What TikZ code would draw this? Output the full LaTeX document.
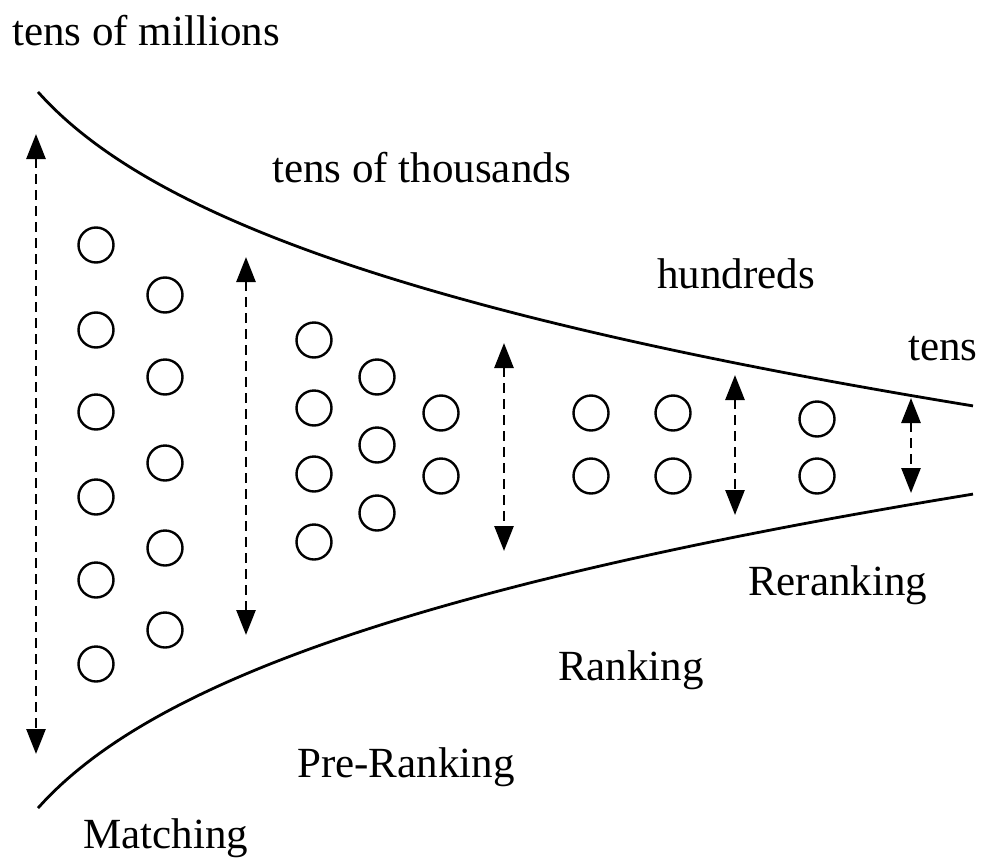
\documentclass[tikz,border=0pt]{standalone}
\usepackage{fontspec}
\setmainfont{Liberation Serif}
\usetikzlibrary{arrows.meta}
\begin{document}
\begin{tikzpicture}[x=1pt,y=-1pt,
  item/.style={circle,draw,line width=2.4pt,minimum size=35pt,inner sep=0pt},
  span/.style={dash pattern=on 10pt off 6pt,line width=2.7pt,
    {Triangle[length=25pt,width=19pt]}-{Triangle[length=25pt,width=19pt]}},
  edge/.style={line width=2.8pt},
  lbl/.style={anchor=base west,inner sep=0pt,font=\fontsize{43}{50}\selectfont}]
\useasboundingbox (0,0) rectangle (987,859);

% funnel borders, symmetric about y = 450
\draw[edge] plot[domain=38:973,samples=120,smooth]
  (\x,{-257.5+117.6*(\x+40)^0.25});
\draw[edge] plot[domain=38:973,samples=120,smooth]
  (\x,{1157.5-117.6*(\x+40)^0.25});

% candidate items
\foreach \y [count=\i] in {245,330,412,497,580,664} \node[item] (a\i) at (96,\y) {};
\foreach \y [count=\i] in {295,377,463,548,630} \node[item] (b\i) at (165,\y) {};
\foreach \y [count=\i] in {340,408,474,542} \node[item] (c\i) at (314,\y) {};
\foreach \y [count=\i] in {377,445,513} \node[item] (d\i) at (377,\y) {};
\foreach \y [count=\i] in {413,476} \node[item] (e\i) at (441,\y) {};
\foreach \y [count=\i] in {413,476} \node[item] (f\i) at (591,\y) {};
\foreach \y [count=\i] in {413,476} \node[item] (g\i) at (673,\y) {};
\foreach \y [count=\i] in {419,476} \node[item] (h\i) at (817,\y) {};

% stage widths
\coordinate (s1t) at (36,134);  \coordinate (s1b) at (36,754);
\coordinate (s2t) at (246,257); \coordinate (s2b) at (246,635);
\coordinate (s3t) at (504,343); \coordinate (s3b) at (504,551);
\coordinate (s4t) at (735,375); \coordinate (s4b) at (735,515);
\coordinate (s5t) at (911,398); \coordinate (s5b) at (911,493);
\foreach \k in {1,...,5} \draw[span] (s\k t) -- (s\k b);

% labels
\node[lbl] (n1) at (12,46)  {tens of millions};
\node[lbl] (n2) at (272,182) {tens of thousands};
\node[lbl] (n3) at (657,288) {hundreds};
\node[lbl] (n4) at (908,360) {tens};
\node[lbl] (m1) at (83,848)  {Matching};
\node[lbl] (m2) at (297,777) {Pre-Ranking};
\node[lbl] (m3) at (558,680) {Ranking};
\node[lbl] (m4) at (748,595) {Reranking};
\end{tikzpicture}
\end{document}
